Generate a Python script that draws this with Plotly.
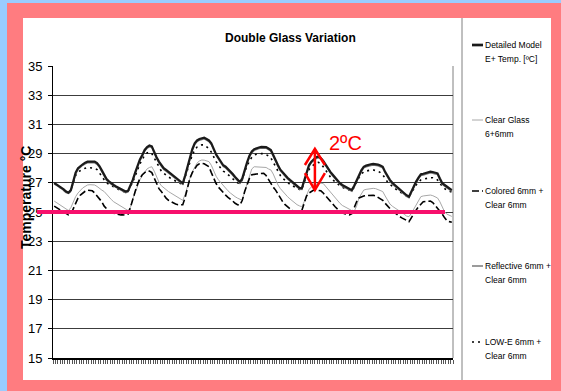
import plotly.graph_objects as go

# ---------------- data (hourly, 7 days) ----------------
hours = list(range(168))

detailed = [
    27.0, 26.9, 26.8, 26.7, 26.55, 26.4, 26.32, 26.5, 27.1, 27.7, 28.0, 28.15, 28.27, 28.38, 28.45, 28.45, 28.45, 28.45, 28.35, 28.15, 27.85, 27.5, 27.25, 27.1,
    26.95, 26.85, 26.75, 26.65, 26.55, 26.45, 26.4, 26.45, 26.8, 27.2, 27.7, 28.2, 28.6, 28.9, 29.25, 29.45, 29.55, 29.5, 29.1, 28.75, 28.45, 28.2, 28.0, 27.88,
    27.75, 27.6, 27.45, 27.35, 27.2, 27.05, 26.97, 27.5, 28.1, 28.7, 29.3, 29.7, 29.9, 30.0, 30.07, 30.09, 30.0, 29.9, 29.7, 29.3, 28.95, 28.7, 28.45, 28.2,
    28.1, 27.95, 27.8, 27.6, 27.4, 27.2, 27.05, 27.3, 27.95, 28.4, 28.85, 29.15, 29.3, 29.38, 29.42, 29.46, 29.47, 29.45, 29.35, 29.25, 28.9, 28.5, 28.2, 27.9,
    27.7, 27.5, 27.35, 27.2, 27.05, 26.95, 26.8, 26.65, 26.62, 27.2, 27.75, 28.2, 28.45, 28.6, 28.75, 28.8, 28.7, 28.5, 28.25, 27.95, 27.75, 27.55, 27.35, 27.15,
    26.97, 26.85, 26.75, 26.65, 26.55, 26.5, 26.8, 27.2, 27.5, 27.85, 28.1, 28.18, 28.24, 28.27, 28.3, 28.3, 28.25, 28.18, 28.1, 27.75, 27.42, 27.2, 27.0, 26.85,
    26.73, 26.6, 26.45, 26.3, 26.15, 26.05, 26.4, 26.8, 27.08, 27.35, 27.58, 27.62, 27.68, 27.72, 27.76, 27.74, 27.7, 27.65, 27.3, 26.97, 26.85, 26.75, 26.6, 26.5,
]

clear_glass = [
    25.75, 25.65, 25.55, 25.45, 25.3, 25.2, 25.1, 25.3, 25.7, 26.05, 26.3, 26.5, 26.65, 26.75, 26.85, 26.87, 26.87, 26.85, 26.75, 26.6, 26.5, 26.4, 26.2, 26.0,
    25.85, 25.7, 25.6, 25.5, 25.4, 25.3, 25.2, 25.1, 25.3, 25.9, 26.3, 26.8, 27.2, 27.5, 27.75, 27.95, 28.05, 28.1, 27.8, 27.4, 27.05, 26.8, 26.65, 26.5,
    26.4, 26.3, 26.2, 26.1, 26.0, 25.9, 25.8, 26.2, 26.8, 27.3, 27.75, 28.1, 28.35, 28.5, 28.56, 28.55, 28.5, 28.45, 28.2, 27.8, 27.45, 27.2, 27.0, 26.8,
    26.6, 26.45, 26.3, 26.15, 26.05, 25.95, 25.85, 25.8, 26.4, 26.95, 27.5, 27.95, 28.1, 28.1, 28.1, 28.1, 28.1, 28.05, 27.95, 27.88, 27.6, 27.2, 26.85, 26.6,
    26.4, 26.2, 26.05, 25.9, 25.75, 25.6, 25.5, 25.42, 25.36, 25.7, 26.2, 26.55, 26.7, 26.85, 26.9, 26.95, 26.97, 26.95, 26.75, 26.55, 26.4, 26.2, 26.0, 25.8,
    25.6, 25.45, 25.35, 25.25, 25.15, 25.1, 25.05, 25.4, 25.96, 26.25, 26.5, 26.55, 26.58, 26.6, 26.62, 26.6, 26.55, 26.47, 26.4, 26.1, 25.8, 25.55, 25.4, 25.3,
    25.2, 25.1, 25.0, 24.85, 24.72, 24.68, 24.9, 25.2, 25.48, 25.75, 26.05, 26.1, 26.12, 26.14, 26.16, 26.12, 26.05, 25.96, 25.7, 25.3, 25.0, 24.85, 24.75, 24.7,
]

colored = [
    25.4, 25.3, 25.2, 25.1, 25.0, 24.9, 24.8, 24.85, 25.2, 25.6, 25.95, 26.16, 26.3, 26.42, 26.5, 26.5, 26.45, 26.3, 26.1, 25.96, 25.7, 25.4, 25.2, 25.05,
    24.95, 24.9, 24.85, 24.82, 24.8, 24.8, 24.8, 24.85, 25.3, 25.9, 26.4, 26.9, 27.3, 27.55, 27.7, 27.78, 27.8, 27.7, 27.3, 26.9, 26.6, 26.4, 26.15, 25.95,
    25.8, 25.7, 25.62, 25.55, 25.5, 25.48, 25.5, 26.0, 26.7, 27.3, 27.7, 28.0, 28.2, 28.3, 28.33, 28.3, 28.2, 28.1, 27.7, 27.3, 26.95, 26.7, 26.5, 26.3,
    26.15, 26.0, 25.9, 25.75, 25.6, 25.5, 25.48, 25.8, 26.4, 26.9, 27.3, 27.55, 27.6, 27.6, 27.62, 27.65, 27.65, 27.5, 27.2, 26.9, 26.7, 26.5, 26.2, 25.9,
    25.7, 25.5, 25.35, 25.2, 25.1, 25.05, 25.02, 25.0, 25.1, 25.6, 26.1, 26.3, 26.4, 26.5, 26.5, 26.5, 26.45, 26.3, 26.1, 25.9, 25.7, 25.5, 25.36, 25.2,
    25.05, 24.95, 24.88, 24.82, 24.8, 24.88, 25.3, 25.7, 25.96, 26.05, 26.1, 26.12, 26.14, 26.16, 26.15, 26.1, 26.0, 25.9, 25.8, 25.6, 25.4, 25.2, 25.05, 24.95,
    24.8, 24.7, 24.6, 24.5, 24.4, 24.34, 24.6, 24.9, 25.13, 25.35, 25.55, 25.7, 25.72, 25.74, 25.75, 25.65, 25.45, 25.3, 25.1, 24.85, 24.6, 24.4, 24.34, 24.3,
]

reflective = [
    26.92, 26.83, 26.72, 26.62, 26.48, 26.33, 26.27, 26.45, 27.0, 27.6, 27.92, 28.07, 28.2, 28.3, 28.37, 28.38, 28.38, 28.37, 28.27, 28.07, 27.77, 27.43, 27.18, 27.02,
    26.87, 26.78, 26.68, 26.58, 26.48, 26.38, 26.33, 26.38, 26.72, 27.12, 27.62, 28.12, 28.52, 28.82, 29.17, 29.37, 29.47, 29.42, 29.02, 28.67, 28.37, 28.12, 27.92, 27.8,
    27.67, 27.52, 27.37, 27.27, 27.12, 26.97, 26.9, 27.42, 28.02, 28.62, 29.22, 29.62, 29.82, 29.92, 29.99, 30.01, 29.92, 29.82, 29.62, 29.22, 28.87, 28.62, 28.37, 28.12,
    28.02, 27.87, 27.72, 27.52, 27.32, 27.12, 26.97, 27.22, 27.87, 28.32, 28.77, 29.07, 29.22, 29.3, 29.34, 29.38, 29.39, 29.37, 29.27, 29.17, 28.82, 28.42, 28.12, 27.82,
    27.62, 27.42, 27.27, 27.12, 26.97, 26.87, 26.72, 26.57, 26.55, 27.12, 27.67, 28.12, 28.37, 28.52, 28.67, 28.72, 28.62, 28.42, 28.17, 27.87, 27.67, 27.47, 27.27, 27.07,
    26.9, 26.78, 26.68, 26.58, 26.48, 26.43, 26.72, 27.12, 27.42, 27.77, 28.02, 28.1, 28.16, 28.19, 28.22, 28.22, 28.17, 28.1, 28.02, 27.67, 27.35, 27.12, 26.92, 26.77,
    26.65, 26.52, 26.37, 26.22, 26.07, 25.98, 26.32, 26.72, 27.0, 27.27, 27.5, 27.54, 27.6, 27.64, 27.68, 27.66, 27.62, 27.57, 27.22, 26.9, 26.77, 26.67, 26.52, 26.42,
]

low_e = [
    26.95, 26.85, 26.75, 26.65, 26.5, 26.35, 26.3, 26.45, 27.0, 27.5, 27.75, 27.85, 27.95, 28.0, 28.05, 28.05, 28.05, 28.0, 27.9, 27.7, 27.45, 27.2, 27.0, 26.9,
    26.8, 26.7, 26.62, 26.55, 26.48, 26.4, 26.35, 26.4, 26.7, 27.05, 27.45, 27.9, 28.3, 28.6, 28.9, 29.05, 29.1, 29.0, 28.7, 28.35, 28.05, 27.8, 27.65, 27.5,
    27.4, 27.3, 27.2, 27.1, 27.0, 26.95, 26.9, 27.35, 27.9, 28.4, 28.9, 29.25, 29.45, 29.55, 29.6, 29.6, 29.5, 29.35, 29.1, 28.75, 28.45, 28.2, 28.0, 27.8,
    27.7, 27.55, 27.4, 27.25, 27.1, 27.0, 26.95, 27.2, 27.75, 28.15, 28.5, 28.75, 28.9, 28.95, 29.0, 29.0, 29.0, 28.95, 28.85, 28.7, 28.4, 28.05, 27.75, 27.5,
    27.3, 27.15, 27.0, 26.9, 26.8, 26.7, 26.62, 26.55, 26.55, 27.0, 27.5, 27.9, 28.1, 28.25, 28.35, 28.4, 28.3, 28.1, 27.85, 27.6, 27.4, 27.2, 27.05, 26.9,
    26.8, 26.7, 26.6, 26.55, 26.5, 26.45, 26.7, 27.05, 27.35, 27.6, 27.75, 27.8, 27.85, 27.88, 27.88, 27.85, 27.8, 27.7, 27.55, 27.3, 27.05, 26.9, 26.75, 26.6,
    26.5, 26.4, 26.3, 26.15, 26.05, 26.0, 26.3, 26.6, 26.85, 27.05, 27.2, 27.25, 27.3, 27.33, 27.35, 27.35, 27.3, 27.2, 26.95, 26.75, 26.6, 26.5, 26.4, 26.35,
]

series_names = [
    ["Detailed Model", "E+ Temp. [ºC]"],
    ["Clear Glass", "6+6mm"],
    ["Colored 6mm +", "Clear 6mm"],
    ["Reflective 6mm +", "Clear 6mm"],
    ["LOW-E 6mm +", "Clear 6mm"],
]
y_ticks = [15, 17, 19, 21, 23, 25, 27, 29, 31, 33, 35]
comfort_temp = 25
arrow_top, arrow_bottom, arrow_hour = 29.32, 26.51, 110
arrow_label = "2ºC"

# ---------------- styling ----------------
ARIAL = "Liberation Sans, Arial, sans-serif"
W, H = 561, 391
L, R, T, B = 53, 453, 66, 358   # plot area in pixels


def px(x):
    return (x - L) / (R - L)


def py(y):
    return (B - y) / (B - T)


styles = [
    dict(color="#1A1A1A", width=2.2, dash="solid"),
    dict(color="#A8A8A8", width=1, dash="solid"),
    dict(color="#000000", width=1.6, dash="7px,3px"),
    dict(color="#7A7A7A", width=1.5, dash="solid"),
    dict(color="#000000", width=1.6, dash="2px,4px"),
]
data_series = [detailed, clear_glass, colored, reflective, low_e]
x_vals = [h + 0.5 for h in hours]

fig = go.Figure()
draw_order = [1, 2, 4, 3, 0]
for i in draw_order:
    fig.add_trace(go.Scatter(
        x=x_vals, y=data_series[i], mode="lines",
        line=dict(color=styles[i]["color"], width=styles[i]["width"], dash=styles[i]["dash"]),
        name=" ".join(series_names[i]), showlegend=False, hoverinfo="skip",
    ))

shapes = []
# background frames
shapes.append(dict(type="rect", xref="paper", yref="paper", layer="below",
                   x0=px(7), x1=px(W + 5), y0=py(H + 5), y1=py(3),
                   fillcolor="#FF7C80", line=dict(width=0)))
shapes.append(dict(type="rect", xref="paper", yref="paper", layer="below",
                   x0=px(23), x1=px(551), y0=py(380), y1=py(18),
                   fillcolor="#FFFFFF", line=dict(width=0)))
# plot right border
shapes.append(dict(type="line", xref="paper", yref="paper", layer="below",
                   x0=1, x1=1, y0=0, y1=1, line=dict(color="#808080", width=1)))
# legend divider
shapes.append(dict(type="line", xref="paper", yref="paper", layer="below",
                   x0=px(462), x1=px(462), y0=py(380), y1=py(18),
                   line=dict(color="#808080", width=1)))
# comfort line
shapes.append(dict(type="line", xref="paper", yref="y", layer="above",
                   x0=px(37), x1=px(445), y0=comfort_temp, y1=comfort_temp,
                   line=dict(color="#F7106C", width=4)))
# red double arrow
red = "#FF0000"
shapes.append(dict(type="line", xref="x", yref="y", layer="above",
                   x0=arrow_hour, x1=arrow_hour, y0=arrow_bottom, y1=arrow_top,
                   line=dict(color=red, width=2.5)))
shapes.append(dict(type="path", xref="x", yref="y", layer="above",
                   path=f"M {arrow_hour-4.2},{arrow_top-1.1} L {arrow_hour},{arrow_top} L {arrow_hour+4.2},{arrow_top-1.1}",
                   line=dict(color=red, width=2.5)))
shapes.append(dict(type="path", xref="x", yref="y", layer="above",
                   path=f"M {arrow_hour-4.2},{arrow_bottom+1.15} L {arrow_hour},{arrow_bottom} L {arrow_hour+4.2},{arrow_bottom+1.15}",
                   line=dict(color=red, width=2.5)))

annotations = []
annotations.append(dict(xref="paper", yref="paper", x=px(290), y=py(38),
                        text="<b>Double Glass Variation</b>", showarrow=False,
                        xanchor="center", yanchor="middle",
                        font=dict(family=ARIAL, size=12, color="#000")))
annotations.append(dict(xref="paper", yref="paper", x=px(26), y=py(198),
                        text="<b>Temperature °C</b>", showarrow=False, textangle=-90,
                        xanchor="center", yanchor="middle", borderpad=0,
                        font=dict(family=ARIAL, size=14, color="#000")))
annotations.append(dict(xref="x", yref="y", x=123, y=29.73, text=arrow_label,
                        showarrow=False, xanchor="center", yanchor="middle",
                        font=dict(family=ARIAL, size=20, color=red)))

# legend
legend_y = [(45, 59), (120, 134), (191, 205), (266, 280), (342, 356)]
for i, names in enumerate(series_names):
    st = styles[i]
    y0 = legend_y[i][0]
    shapes.append(dict(type="line", xref="paper", yref="paper", layer="above",
                       x0=px(472), x1=px(483), y0=py(y0), y1=py(y0),
                       line=dict(color=st["color"], width=st["width"] + (0.5 if i == 0 else 0),
                                 dash=st["dash"])))
    for j, line_text in enumerate(names):
        annotations.append(dict(xref="paper", yref="paper", x=px(484), y=py(legend_y[i][j]),
                                text=line_text, showarrow=False, xanchor="left", yanchor="middle",
                                align="left", borderpad=0,
                                font=dict(family=ARIAL, size=8.5, color="#000")))

fig.update_layout(
    width=W, height=H,
    margin=dict(l=L, r=W - R, t=T, b=H - B, pad=0),
    paper_bgcolor="#99CCFF",
    plot_bgcolor="rgba(0,0,0,0)",
    shapes=shapes,
    annotations=annotations,
    showlegend=False,
    xaxis=dict(range=[0, 168], tick0=0, dtick=1, ticks="outside", ticklen=4,
               tickcolor="#555555", tickwidth=1, showticklabels=False, showgrid=False,
               zeroline=False, showline=True, linecolor="#000", linewidth=1.5, fixedrange=True),
    yaxis=dict(range=[15, 35], tickvals=y_ticks, ticktext=[str(v) for v in y_ticks],
               ticks="outside", ticklen=4, tickcolor="#000", showgrid=True,
               gridcolor="#3C3C3C", gridwidth=1, zeroline=False, showline=True,
               linecolor="#000", linewidth=1, ticklabelstandoff=3,
               tickfont=dict(family=ARIAL, size=13, color="#000"), fixedrange=True),
)

fig.write_html("out.html", config={"displayModeBar": False})
